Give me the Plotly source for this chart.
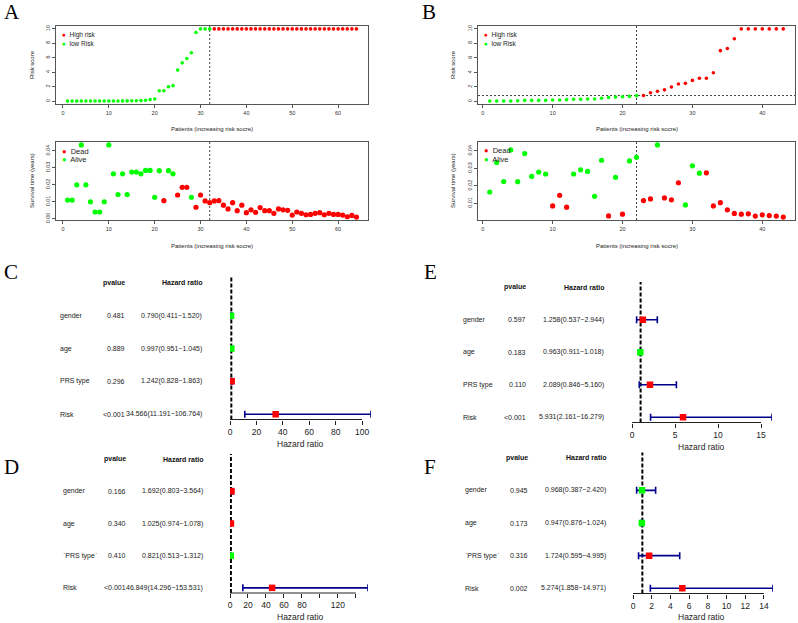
import plotly.graph_objects as go

W, H = 798, 623

# ---------------- data ----------------
# Panel A (training set): risk score and survival, patients sorted by risk
a_risk = [0.01, 0.01, 0.01, 0.02, 0.02, 0.02, 0.02, 0.02, 0.03, 0.03,
          0.03, 0.03, 0.04, 0.04, 0.05, 0.06, 0.08, 0.12, 0.22, 0.30,
          1.45, 1.45, 2.00, 2.15, 4.30, 5.30, 5.90, 6.70, 9.50, 10.0,
          10.0, 10.0, 10.0, 10.0, 10.0, 10.0, 10.0, 10.0, 10.0, 10.0,
          10.0, 10.0, 10.0, 10.0, 10.0, 10.0, 10.0, 10.0, 10.0, 10.0,
          10.0, 10.0, 10.0, 10.0, 10.0, 10.0, 10.0, 10.0, 10.0, 10.0,
          10.0, 10.0, 10.0, 10.0]
a_group = list("LLLLLLLLLLLLLLLLLLLLLLLLLLLLLLLLHHHHHHHHHHHHHHHHHHHHHHHHHHHHHHHH")
a_time = [0.0110, 0.0110, 0.0200, 0.0435, 0.0200, 0.0100, 0.0040, 0.0040, 0.0100, 0.0435,
          0.0265, 0.0143, 0.0265, 0.0143, 0.0275, 0.0275, 0.0265, 0.0285, 0.0285, 0.0127,
          0.0283, 0.0107, 0.0283, 0.0265, 0.0140, 0.0185, 0.0185, 0.0127, 0.0068, 0.0140,
          0.0105, 0.0095, 0.0105, 0.0107, 0.0080, 0.0058, 0.0095, 0.0048, 0.0080, 0.0036,
          0.0053, 0.0038, 0.0066, 0.0048, 0.0048, 0.0032, 0.0058, 0.0053, 0.0050, 0.0022,
          0.0040, 0.0032, 0.0024, 0.0026, 0.0032, 0.0036, 0.0024, 0.0032, 0.0026, 0.0026,
          0.0022, 0.0012, 0.0020, 0.0010]
a_status = list("AAAAAAAAAAAAAAAAAAAAADAADDDADDDDDDDDDDDDDDDDDDDDDDDDDDDDDDDDDDDD")
a_cut_index = 32

# Panel B (validation set)
b_risk = [0.05, 0.05, 0.05, 0.05, 0.10, 0.15, 0.15, 0.15, 0.15, 0.20,
          0.20, 0.25, 0.30, 0.30, 0.35, 0.35, 0.45, 0.55, 0.60, 0.65,
          0.70, 0.80, 0.82, 1.20, 1.40, 1.60, 2.00, 2.40, 2.50, 2.90,
          3.20, 3.20, 3.95, 7.00, 7.30, 8.65, 10.0, 10.0, 10.0, 10.0,
          10.0, 10.0, 10.0]
b_group = list("LLLLLLLLLLLLLLLLLLLLLLHHHHHHHHHHHHHHHHHHHHH")
b_time = [0.0165, 0.0334, 0.0225, 0.0406, 0.0224, 0.0385, 0.0254, 0.0279, 0.0268, 0.0085,
          0.0146, 0.0078, 0.0268, 0.0292, 0.0283, 0.0140, 0.0347, 0.0028, 0.0249, 0.0038,
          0.0343, 0.0364, 0.0116, 0.0125, 0.0435, 0.0131, 0.0120, 0.0218, 0.0091, 0.0315,
          0.0273, 0.0275, 0.0085, 0.0104, 0.0063, 0.0042, 0.0038, 0.0040, 0.0027, 0.0034,
          0.0030, 0.0027, 0.0021]
b_status = list("AAAAAAAAADDDAAAAADADAADDADDDAAADDDDDDDDDDDD")
b_cut_index = 22
b_cut_value = 0.82

# Forest plots
c_vars = ["gender", "age", "PRS type", "Risk"]
c_p = ["0.481", "0.889", "0.296", "<0.001"]
c_hr = [0.790, 0.997, 1.242, 34.566]
c_lo = [0.411, 0.951, 0.828, 11.191]
c_hi = [1.520, 1.045, 1.863, 106.764]
c_ticks = [0, 20, 40, 60, 80, 100]
c_ticktext = ["0", "20", "40", "60", "80", "100"]

d_vars = ["gender", "age", "`PRS type`", "Risk"]
d_p = ["0.166", "0.340", "0.410", "<0.001"]
d_hr = [1.692, 1.025, 0.821, 46.849]
d_lo = [0.803, 0.974, 0.513, 14.296]
d_hi = [3.564, 1.078, 1.312, 153.531]
d_ticks = [0, 20, 40, 60, 80, 100, 120, 140]
d_ticktext = ["0", "20", "40", "60", "80", "", "120", ""]

e_vars = ["gender", "age", "PRS type", "Risk"]
e_p = ["0.597", "0.183", "0.110", "<0.001"]
e_hr = [1.258, 0.963, 2.089, 5.931]
e_lo = [0.537, 0.911, 0.846, 2.161]
e_hi = [2.944, 1.018, 5.160, 16.279]
e_ticks = [0, 5, 10, 15]
e_ticktext = ["0", "5", "10", "15"]

f_vars = ["gender", "age", "`PRS type`", "Risk"]
f_p = ["0.945", "0.173", "0.316", "0.002"]
f_hr = [0.968, 0.947, 1.724, 5.274]
f_lo = [0.387, 0.876, 0.595, 1.858]
f_hi = [2.420, 1.024, 4.995, 14.971]
f_ticks = [0, 2, 4, 6, 8, 10, 12, 14]
f_ticktext = ["0", "2", "4", "6", "8", "10", "12", "14"]

# ---------------- styling helpers ----------------
FONT = "Liberation Sans, Arial, sans-serif"
SERIF = "Liberation Serif, Times New Roman, serif"
RED, GREEN, BLUE = "#FF0000", "#00FF00", "#00008B"
BOX = "#555555"
TXT = "#222222"


def xdom(l, r):
    return [l / W, r / W]


def ydom(t, b):
    return [1 - b / H, 1 - t / H]


def px(x):
    return x / W


def py(y):
    return 1 - y / H


def names_for(k):
    s = "" if k == 1 else str(k)
    return f"x{s}", f"y{s}", f"xaxis{s}", f"yaxis{s}"


fig = go.Figure()
layout = dict(width=W, height=H, margin=dict(l=0, r=0, t=0, b=0),
              paper_bgcolor="white", plot_bgcolor="white",
              showlegend=False, template="none",
              font=dict(family=FONT, color=TXT))
annotations = []
shapes = []


def r_range(vals, pad=0.04):
    lo, hi = min(vals), max(vals)
    s = hi - lo
    return [lo - pad * s, hi + pad * s]


def legend_block(x_px, y_px, items, size, gap):
    for i, (label, color) in enumerate(items):
        annotations.append(dict(
            x=px(x_px), y=py(y_px + i * gap), xref="paper", yref="paper",
            xanchor="left", yanchor="middle", showarrow=False,
            text=f"<span style='color:{color}'>\u25CF</span>  {label}",
            font=dict(family=FONT, size=size, color=TXT)))


def scatter_panel(k, xd, yd, values, colors, msize, y_dtick, y_fmt,
                  cut_index, cut_value=None):
    n = len(values)
    xs = list(range(1, n + 1))
    xa, ya, xkey, ykey = names_for(k)
    fig.add_trace(go.Scatter(x=xs, y=values, mode="markers", xaxis=xa, yaxis=ya,
                             marker=dict(size=msize, color=colors, line=dict(width=0)),
                             hoverinfo="x+y"))
    axis_common = dict(showline=True, mirror=True, linecolor=BOX, linewidth=1,
                       ticks="outside", ticklen=3, tickwidth=1, tickcolor=BOX,
                       showgrid=False, zeroline=False, automargin=False,
                       tickfont=dict(family=FONT, size=5.5, color="#333333"))
    layout[xkey] = dict(domain=xdom(*xd), range=r_range(xs), anchor=ya,
                        tick0=0, dtick=10, **axis_common)
    layout[ykey] = dict(domain=ydom(*yd), range=r_range(values), anchor=xa,
                        tick0=0, dtick=y_dtick, tickformat=y_fmt,
                        tickangle=-90, **axis_common)
    shapes.append(dict(type="line", xref=xa, yref=f"{ya} domain",
                       x0=cut_index, x1=cut_index, y0=0, y1=1, layer="below",
                       line=dict(color="#444444", width=1, dash="2px,2px")))
    if cut_value is not None:
        shapes.append(dict(type="line", xref=f"{xa} domain", yref=ya,
                           x0=0, x1=1, y0=cut_value, y1=cut_value, layer="below",
                           line=dict(color="#444444", width=1, dash="2px,2px")))


def group_colors(g):
    return [RED if v == "H" else GREEN for v in g]


def status_colors(s):
    return [RED if v == "D" else GREEN for v in s]


# ---- Panel A ----
scatter_panel(1, (56, 368), (26, 104), a_risk, group_colors(a_group), 3.6, 2, "d", a_cut_index)
scatter_panel(2, (56, 368), (142, 220), a_time, status_colors(a_status), 5.2, 0.01, ".2f", a_cut_index)
# ---- Panel B ----
scatter_panel(3, (478, 795), (26, 104), b_risk, group_colors(b_group), 3.6, 2, "d", b_cut_index, b_cut_value)
scatter_panel(4, (478, 795), (142, 220), b_time, status_colors(b_status), 5.2, 0.01, ".2f", b_cut_index)

legend_block(59.5, 35.5, [("High risk", RED), ("low Risk", GREEN)], 6.5, 8)
legend_block(59.5, 151.5, [("Dead", RED), ("Alive", GREEN)], 7.5, 8.5)
legend_block(482, 35.0, [("High risk", RED), ("low Risk", GREEN)], 6.5, 8)
legend_block(482, 151.0, [("Dead", RED), ("Alive", GREEN)], 7.5, 8.5)


def axis_title(x_px, y_px, text, angle=0, size=6):
    annotations.append(dict(x=px(x_px), y=py(y_px), xref="paper", yref="paper",
                            xanchor="center", yanchor="middle", showarrow=False,
                            textangle=angle, text=text,
                            font=dict(family=FONT, size=size, color=TXT)))


axis_title(212, 129, "Patients (increasing risk socre)")
axis_title(212, 245.5, "Patients (increasing risk socre)")
axis_title(636.5, 129, "Patients (increasing risk socre)")
axis_title(636.5, 245.5, "Patients (increasing risk socre)")
axis_title(32, 65, "Risk score", -90)
axis_title(32, 181, "Survival time (years)", -90)
axis_title(453, 65, "Risk score", -90)
axis_title(453, 181, "Survival time (years)", -90)


# ---- Forest plots ----
def forest(k, xd, yd, names, pvals, hr, lo, hi, tickvals, ticktext,
           col_px, title_px):
    xa, ya, xkey, ykey = names_for(k)
    rows = list(range(len(names), 0, -1))
    header_row = len(names) + 1
    colors = [RED if v > 1 else GREEN for v in hr]
    fig.add_trace(go.Scatter(
        x=hr, y=rows, mode="markers", xaxis=xa, yaxis=ya,
        marker=dict(symbol="square", size=6.5, color=colors, line=dict(width=0)),
        error_x=dict(type="data", symmetric=False,
                     array=[h - v for h, v in zip(hi, hr)],
                     arrayminus=[v - l for v, l in zip(hr, lo)],
                     color=BLUE, thickness=1.6, width=3.5),
        hoverinfo="x+y"))
    layout[xkey] = dict(domain=xdom(*xd), range=[0, max(hi)], anchor=ya,
                        showline=False, showgrid=False, zeroline=False,
                        ticks="outside", ticklen=4, tickwidth=1, tickcolor="#222",
                        tickvals=tickvals, ticktext=ticktext, automargin=False,
                        tickfont=dict(family=FONT, size=8.5, color=TXT))
    layout[ykey] = dict(domain=ydom(*yd), range=[1 - 0.16, header_row + 0.16],
                        anchor=xa, visible=False, showgrid=False, zeroline=False)
    # x-axis line from first to last tick (R axis style)
    shapes.append(dict(type="line", xref=xa, yref=f"{ya} domain",
                       x0=tickvals[0], x1=tickvals[-1], y0=0, y1=0,
                       line=dict(color="#222", width=1)))
    # reference line at HR = 1
    shapes.append(dict(type="line", xref=xa, yref=f"{ya} domain",
                       x0=1, x1=1, y0=0, y1=1, layer="below",
                       line=dict(color="black", width=2, dash="4px,2px")))
    lab_x, p_x, hr_x = col_px
    tfont = dict(family=FONT, size=7, color=TXT)
    bfont = dict(family=FONT, size=7, color="#111111")
    annotations.append(dict(x=px(p_x), y=header_row, xref="paper", yref=ya,
                            xanchor="right", yanchor="middle", showarrow=False,
                            text="<b>pvalue</b>", font=bfont))
    annotations.append(dict(x=px(hr_x), y=header_row, xref="paper", yref=ya,
                            xanchor="right", yanchor="middle", showarrow=False,
                            text="<b>Hazard ratio</b>", font=bfont))
    for name, p, h, l, u, r in zip(names, pvals, hr, lo, hi, rows):
        annotations.append(dict(x=px(lab_x), y=r, xref="paper", yref=ya,
                                xanchor="left", yanchor="middle", showarrow=False,
                                text=name, font=tfont))
        annotations.append(dict(x=px(p_x), y=r, xref="paper", yref=ya,
                                xanchor="right", yanchor="middle", showarrow=False,
                                text=p, font=tfont))
        annotations.append(dict(x=px(hr_x), y=r, xref="paper", yref=ya,
                                xanchor="right", yanchor="middle", showarrow=False,
                                text=f"{h:.3f}({l:.3f}\u2212{u:.3f})", font=tfont))
    annotations.append(dict(x=px(title_px[0]), y=py(title_px[1]), xref="paper", yref="paper",
                            xanchor="center", yanchor="middle", showarrow=False,
                            text="Hazard ratio",
                            font=dict(family=FONT, size=8.5, color=TXT)))


forest(5, (230, 371), (277.5, 419.5), c_vars, c_p, c_hr, c_lo, c_hi, c_ticks, c_ticktext,
       (58.3, 126.5, 203.5), (300, 443.5))
forest(6, (632, 772), (282, 422.5), e_vars, e_p, e_hr, e_lo, e_hi, e_ticks, e_ticktext,
       (460.7, 527.7, 605.7), (701.7, 447))
forest(7, (230, 368), (454, 593), d_vars, d_p, d_hr, d_lo, d_hi, d_ticks, d_ticktext,
       (60.7, 127.7, 204.7), (300, 617))
forest(8, (633, 773), (452.5, 593.5), f_vars, f_p, f_hr, f_lo, f_hi, f_ticks, f_ticktext,
       (462.7, 530.3, 608.3), (701.7, 617))

# ---- panel letters ----
for letter, x_px, y_px in [("A", 2, 11.5), ("B", 420, 11.5), ("C", 2, 271.5),
                           ("E", 422, 272), ("D", 2, 466.5), ("F", 422, 466.5)]:
    annotations.append(dict(x=px(x_px), y=py(y_px), xref="paper", yref="paper",
                            xanchor="left", yanchor="middle", showarrow=False,
                            text=letter, font=dict(family=SERIF, size=21, color="black")))

layout["annotations"] = annotations
layout["shapes"] = shapes
fig.update_layout(**layout)
fig.write_html("out.html",
               config={"displayModeBar": False},
               post_script="document.body.style.margin='0';"
                           "document.body.style.overflow='hidden';")
